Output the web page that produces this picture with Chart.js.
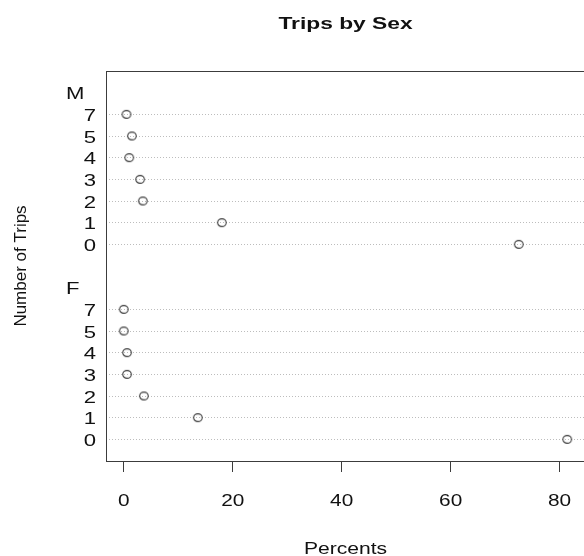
<!DOCTYPE html>
<html>
<head>
<meta charset="utf-8">
<script src="https://cdn.jsdelivr.net/npm/chart.js@4"></script>
<style>
    html, body { margin: 0; padding: 0; background: #fff; overflow: hidden; }
    #wrap { width: 600px; height: 556px; }
</style>
</head>
<body>
<div id="wrap"><canvas id="dotChart" width="600" height="556"></canvas></div>
<script>
// data (percent of each sex by number of trips)
const tripLabels = ["0", "1", "2", "3", "4", "5", "7"];
const femalePct = [81.4, 13.6, 3.7, 0.6, 0.6, 0.0, 0.0];
const malePct = [72.5, 18.0, 3.5, 3.0, 1.0, 1.5, 0.5];
const groupNames = ["F", "M"];   // bottom group first, like dotchart
const xTicks = [0, 20, 40, 60, 80];

const titleText = "Trips by Sex";
const xTitle = "Percents";
const yTitle = "Number of Trips";

// row positions: group g uses rows g*9+1 .. g*9+7, its label sits on g*9+8
const rowsPerGroup = tripLabels.length;
const groupStep = rowsPerGroup + 2;

function rowPos(g, i){
    return g * groupStep + 1 + i;
};

function groupPos(g){
    return g * groupStep + rowsPerGroup + 1;
};

function toPoints(values, g){
    return values.map((v, i) => ({ x: v, y: rowPos(g, i) }));
};

// all row positions (grid lines only go on rows, not on the group labels)
const rowTicks = [];
groupNames.forEach((name, g) => {
    tripLabels.forEach((lab, i) => rowTicks.push(rowPos(g, i)));
});

// open circle, a bit wider than tall like the original
const dot = document.createElement('canvas');
dot.width = 12;
dot.height = 11;
(function(){
    const c = dot.getContext('2d');
    c.strokeStyle = '#3a3a3a';
    c.lineWidth = 1.1;
    c.beginPath();
    c.ellipse(6, 5.5, 4.3, 3.9, 0, 0, Math.PI * 2);
    c.stroke();
})();

// text in the reference is drawn wide, so squeeze it the other way round
function wideText(ctx, text, x, y, align, sx){
    ctx.save();
    ctx.translate(x, y);
    ctx.scale(sx, 1);
    ctx.textAlign = align;
    ctx.textBaseline = 'alphabetic';
    ctx.fillText(text, 0, 0);
    ctx.restore();
};

const frameAndText = {
    id: 'frameAndText',
    beforeDatasetsDraw(chart){
        const ctx = chart.ctx;
        const a = chart.chartArea;
        ctx.save();
        ctx.strokeStyle = '#3c3c3c';
        ctx.lineWidth = 1;
        ctx.strokeRect(Math.round(a.left) + 0.5, Math.round(a.top) + 0.5,
            Math.round(a.right - a.left), Math.round(a.bottom - a.top));
        ctx.restore();
    },
    afterDraw(chart){
        const ctx = chart.ctx;
        const a = chart.chartArea;
        const xs = chart.scales.x;
        const ys = chart.scales.y;
        ctx.save();
        ctx.fillStyle = '#111';

        // title
        ctx.font = 'bold 17px "Liberation Sans"';
        wideText(ctx, titleText, (a.left + a.right) / 2, 29, 'center', 1.34);

        // row labels and group labels
        ctx.font = '17px "Liberation Sans"';
        groupNames.forEach((name, g) => {
            tripLabels.forEach((lab, i) => {
                wideText(ctx, lab, 96, ys.getPixelForValue(rowPos(g, i)) + 6.5, 'right', 1.3);
            });
            wideText(ctx, name, 66, ys.getPixelForValue(groupPos(g)) + 6.5, 'left', 1.3);
        });

        // x tick labels
        ctx.font = '16px "Liberation Sans"';
        xTicks.forEach(v => {
            wideText(ctx, String(v), xs.getPixelForValue(v), 506, 'center', 1.3);
        });

        // axis titles
        ctx.font = '17px "Liberation Sans"';
        wideText(ctx, xTitle, (a.left + a.right) / 2, 554, 'center', 1.24);

        ctx.translate(26, (a.top + a.bottom) / 2);
        ctx.rotate(-Math.PI / 2);
        ctx.textAlign = 'center';
        ctx.textBaseline = 'alphabetic';
        ctx.fillText(yTitle, 0, 0);
        ctx.restore();
    }
};

const context = document.getElementById('dotChart');
const dotChart = new Chart(context, {
    type: 'scatter',
    data: {
        datasets: [
            {
                label: groupNames[0],
                data: toPoints(femalePct, 0),
                pointStyle: dot,
            },
            {
                label: groupNames[1],
                data: toPoints(malePct, 1),
                pointStyle: dot,
            }
        ]
    },
    options: {
        responsive: false,
        animation: false,
        layout: {
            padding: { top: 71, right: 15, bottom: 0, left: 0 }
        },
        plugins: {
            legend: { display: false },
            tooltip: { enabled: false },
        },
        scales: {
            x: {
                type: 'linear',
                min: -3.26,
                max: 84.66,
                afterBuildTicks: (axis) => {
                    axis.ticks = xTicks.map(v => ({ value: v }));
                },
                afterFit: (axis) => { axis.height = 95; },
                ticks: { display: false },
                grid: {
                    drawOnChartArea: false,
                    drawTicks: true,
                    tickLength: 11,
                    tickColor: '#3c3c3c',
                    tickWidth: 1,
                },
                border: { display: false },
            },
            y: {
                type: 'linear',
                min: 0,
                max: groupNames.length * groupStep,
                afterBuildTicks: (axis) => {
                    axis.ticks = rowTicks.map(v => ({ value: v }));
                },
                afterFit: (axis) => { axis.width = 106; },
                ticks: { display: false },
                grid: {
                    drawTicks: false,
                    color: '#bdbdbd',
                    lineWidth: 1,
                },
                border: { display: false, dash: [1, 2] },
            }
        }
    },
    plugins: [frameAndText]
});
</script>
</body>
</html>
